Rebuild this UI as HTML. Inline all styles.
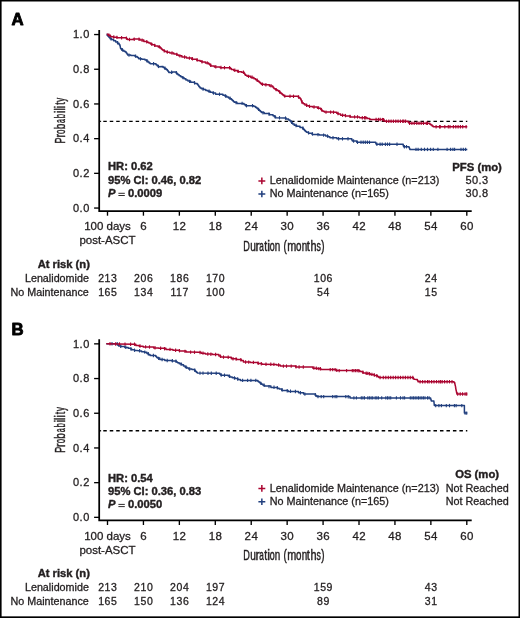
<!DOCTYPE html>
<html><head><meta charset="utf-8"><style>
html,body{margin:0;padding:0;background:#fff;}
body{width:520px;height:618px;overflow:hidden;}
svg{display:block;font-family:"Liberation Sans", sans-serif;will-change:transform;}
svg text{stroke:#231f20;stroke-width:0.3px;}
svg .b text, svg text.b{stroke-width:0.4px;}
</style></head><body>
<svg width="520" height="618" viewBox="0 0 520 618" fill="#231f20">
<rect x="0" y="0" width="520" height="618" fill="#fff"/>
<g fill="#000"><rect x="0" y="0" width="1.6" height="618"/><rect x="0" y="0" width="520" height="1.5"/><rect x="518.5" y="0" width="1.5" height="618"/><rect x="0" y="616.35" width="520" height="1.65"/></g>
<text x="11.6" y="25.4" font-size="16.8" font-weight="bold" style="stroke:#000;stroke-width:0.85px;stroke-linejoin:round" fill="#000">A</text>
<g stroke="#000" stroke-width="1.75" fill="none">
<path d="M99.2,30.0 V211.7 M98.35,211.0 H471.7"/>
</g><g stroke="#000" stroke-width="1.35" fill="none">
<path d="M94.1,208.05 H99"/>
<path d="M94.1,173.35 H99"/>
<path d="M94.1,138.65 H99"/>
<path d="M94.1,103.95 H99"/>
<path d="M94.1,69.25 H99"/>
<path d="M94.1,34.55 H99"/>
<path d="M107.50,211.0 V215.7"/>
<path d="M143.43,211.0 V215.7"/>
<path d="M179.36,211.0 V215.7"/>
<path d="M215.29,211.0 V215.7"/>
<path d="M251.22,211.0 V215.7"/>
<path d="M287.15,211.0 V215.7"/>
<path d="M323.08,211.0 V215.7"/>
<path d="M359.01,211.0 V215.7"/>
<path d="M394.94,211.0 V215.7"/>
<path d="M430.87,211.0 V215.7"/>
<path d="M466.80,211.0 V215.7"/>
</g>
<g font-size="11" text-anchor="end" letter-spacing="0.5">
<text x="89.8" y="211.7">0.0</text>
<text x="89.8" y="177.0">0.2</text>
<text x="89.8" y="142.2">0.4</text>
<text x="89.8" y="107.5">0.6</text>
<text x="89.8" y="72.8">0.8</text>
<text x="89.8" y="38.2">1.0</text>
</g>
<g font-size="11.5" text-anchor="middle">
<text x="107.5" y="230.2">100 days</text>
<text x="107.5" y="244.3">post-ASCT</text>
<text x="143.6" y="230.2" letter-spacing="0.4">6</text>
<text x="179.6" y="230.2" letter-spacing="0.4">12</text>
<text x="215.5" y="230.2" letter-spacing="0.4">18</text>
<text x="251.4" y="230.2" letter-spacing="0.4">24</text>
<text x="287.3" y="230.2" letter-spacing="0.4">30</text>
<text x="323.3" y="230.2" letter-spacing="0.4">36</text>
<text x="359.2" y="230.2" letter-spacing="0.4">42</text>
<text x="395.1" y="230.2" letter-spacing="0.4">48</text>
<text x="431.1" y="230.2" letter-spacing="0.4">54</text>
<text x="467.0" y="230.2" letter-spacing="0.4">60</text>
</g>
<text transform="translate(0,250.8) translate(243.15,0) scale(0.651,1)" font-size="14" style="stroke-width:0.45px">D</text><text transform="translate(0,250.8) translate(250.14,0) scale(0.723,1)" font-size="14" style="stroke-width:0.45px">u</text><text transform="translate(0,250.8) translate(255.38,0) scale(0.886,1)" font-size="14" style="stroke-width:0.45px">r</text><text transform="translate(0,250.8) translate(259.35,0) scale(0.584,1)" font-size="14" style="stroke-width:0.45px">a</text><text transform="translate(0,250.8) translate(264.14,0) scale(0.755,1)" font-size="14" style="stroke-width:0.45px">t</text><text transform="translate(0,250.8) translate(267.36,0) scale(0.894,1)" font-size="14" style="stroke-width:0.45px">i</text><text transform="translate(0,250.8) translate(269.73,0) scale(0.635,1)" font-size="14" style="stroke-width:0.45px">o</text><text transform="translate(0,250.8) translate(274.84,0) scale(0.706,1)" font-size="14" style="stroke-width:0.45px">n</text>
<text transform="translate(0,250.8) translate(283.49,0) scale(0.700,1)" font-size="14" style="stroke-width:0.45px">(</text><text transform="translate(0,250.8) translate(287.18,0) scale(0.775,1)" font-size="14" style="stroke-width:0.45px">m</text><text transform="translate(0,250.8) translate(295.99,0) scale(0.696,1)" font-size="14" style="stroke-width:0.45px">o</text><text transform="translate(0,250.8) translate(301.64,0) scale(0.706,1)" font-size="14" style="stroke-width:0.45px">n</text><text transform="translate(0,250.8) translate(306.83,0) scale(0.811,1)" font-size="14" style="stroke-width:0.45px">t</text><text transform="translate(0,250.8) translate(310.44,0) scale(0.779,1)" font-size="14" style="stroke-width:0.45px">h</text><text transform="translate(0,250.8) translate(316.46,0) scale(0.622,1)" font-size="14" style="stroke-width:0.45px">s</text><text transform="translate(0,250.8) translate(321.24,0) scale(0.700,1)" font-size="14" style="stroke-width:0.45px">)</text>
<text transform="translate(64.7,143.0) rotate(-90) translate(-0.54,0) scale(0.644,1)" font-size="14" style="stroke-width:0.45px">P</text><text transform="translate(64.7,143.0) rotate(-90) translate(5.41,0) scale(0.743,1)" font-size="14" style="stroke-width:0.45px">r</text><text transform="translate(64.7,143.0) rotate(-90) translate(8.97,0) scale(0.560,1)" font-size="14" style="stroke-width:0.45px">o</text><text transform="translate(64.7,143.0) rotate(-90) translate(13.66,0) scale(0.715,1)" font-size="14" style="stroke-width:0.45px">b</text><text transform="translate(64.7,143.0) rotate(-90) translate(20.05,0) scale(0.501,1)" font-size="14" style="stroke-width:0.45px">a</text><text transform="translate(64.7,143.0) rotate(-90) translate(24.68,0) scale(0.572,1)" font-size="14" style="stroke-width:0.45px">b</text><text transform="translate(64.7,143.0) rotate(-90) translate(29.95,0) scale(0.772,1)" font-size="14" style="stroke-width:0.45px">i</text><text transform="translate(64.7,143.0) rotate(-90) translate(32.40,0) scale(0.772,1)" font-size="14" style="stroke-width:0.45px">l</text><text transform="translate(64.7,143.0) rotate(-90) translate(34.70,0) scale(0.772,1)" font-size="14" style="stroke-width:0.45px">i</text><text transform="translate(64.7,143.0) rotate(-90) translate(38.16,0) scale(0.643,1)" font-size="14" style="stroke-width:0.45px">t</text><text transform="translate(64.7,143.0) rotate(-90) translate(41.18,0) scale(0.562,1)" font-size="14" style="stroke-width:0.45px">y</text>
<path d="M100.3,121.4 H467.3" stroke="#000" stroke-width="1.4" stroke-dasharray="3.5,2.975" stroke-dashoffset="3.5"/>
<path d="M100.1,121.4 H101.1" stroke="#000" stroke-width="1.4"/>
<polyline points="106.7,34.3 107.2,34.3 107.2,35.4 108.2,35.4 108.2,36.5 109.1,36.5 109.1,37.6 110.1,37.6 110.1,38.7 110.6,38.7 111.5,38.7 111.5,39.6 112.5,39.6 113.6,39.6 113.6,40.8 115.7,40.8 115.7,42.0 116.8,42.0 117.5,42.0 117.5,43.2 119.0,43.2 119.0,44.4 119.7,44.4 119.8,44.4 119.8,45.5 120.1,45.5 120.1,46.6 120.3,46.6 120.3,47.7 120.6,47.7 120.6,48.8 120.7,48.8 121.8,48.8 121.8,50.2 123.0,50.2 123.8,50.2 123.8,51.2 125.2,51.2 125.2,52.1 126.0,52.1 126.3,52.1 126.3,53.1 127.0,53.1 127.0,54.0 127.6,54.0 127.6,55.0 127.9,55.0 130.8,55.0 130.8,55.5 133.7,55.5 135.1,55.5 135.1,56.4 136.5,56.4 137.2,56.4 137.2,57.6 138.7,57.6 138.7,58.8 139.4,58.8 141.8,58.8 141.8,59.3 144.2,59.3 145.0,59.3 145.0,60.1 146.5,60.1 146.5,61.0 147.3,61.0 147.9,61.0 147.9,61.9 149.1,61.9 149.1,62.9 150.2,62.9 150.2,63.8 150.8,63.8 155.4,63.8 156.0,63.8 156.0,64.8 157.1,64.8 157.1,65.7 158.2,65.7 158.2,66.7 158.8,66.7 162.3,66.4 163.1,66.4 163.1,67.5 164.6,67.5 164.6,68.5 166.1,68.5 166.1,69.6 166.9,69.6 167.3,69.6 167.3,70.6 168.1,70.6 168.1,71.5 168.8,71.5 168.8,72.5 169.2,72.5 172.4,72.5 172.4,71.9 175.6,71.9 176.1,71.9 176.1,72.9 177.0,72.9 177.0,73.8 177.9,73.8 177.9,74.8 178.4,74.8 179.2,74.8 179.2,75.8 180.8,75.8 180.8,76.7 182.3,76.7 182.3,77.7 183.1,77.7 184.1,77.7 184.1,78.8 185.9,78.8 185.9,80.0 187.9,80.0 187.9,81.1 188.8,81.1 190.6,81.1 190.6,82.3 192.3,82.3 194.6,82.3 194.6,83.4 196.9,83.4 197.2,83.4 197.2,84.3 198.0,84.3 198.0,85.2 198.7,85.2 198.7,86.2 199.3,86.2 199.3,87.1 200.1,87.1 200.1,88.0 200.4,88.0 201.4,88.0 201.4,88.8 203.6,88.8 203.6,89.6 204.6,89.6 205.8,89.6 205.8,90.4 208.0,90.4 208.0,91.3 209.2,91.3 210.3,91.3 210.3,92.2 212.7,92.2 212.7,93.1 213.8,93.1 215.6,93.1 215.6,94.2 217.3,94.2 221.9,94.2 222.9,94.2 222.9,95.2 224.8,95.2 224.8,96.1 226.7,96.1 226.7,97.1 227.7,97.1 228.5,97.1 228.5,97.9 230.2,97.9 230.2,98.8 231.1,98.8 231.5,98.8 231.5,99.7 232.4,99.7 232.4,100.5 233.3,100.5 233.3,101.4 234.2,101.4 234.2,102.3 234.6,102.3 236.9,102.3 236.9,103.4 239.2,103.4 243.3,103.4 244.0,103.4 244.0,104.6 245.4,104.6 245.4,105.7 246.1,105.7 253.1,105.7 253.9,105.7 253.9,106.6 255.7,106.6 255.7,107.5 256.5,107.5 257.0,107.5 257.0,108.5 258.1,108.5 258.1,109.5 259.2,109.5 259.2,110.5 260.3,110.5 260.3,111.5 261.4,111.5 261.4,112.5 261.9,112.5 264.2,112.5 264.2,113.6 266.5,113.6 269.4,113.6 269.4,114.8 272.3,114.8 273.0,114.8 273.0,115.8 274.3,115.8 274.3,116.7 275.6,116.7 275.6,117.7 276.3,117.7 285.0,117.9 286.1,117.9 286.1,119.0 288.5,119.0 288.5,120.0 289.6,120.0 290.0,120.0 290.0,121.0 290.9,121.0 290.9,122.0 291.8,122.0 291.8,123.0 292.7,123.0 292.7,124.0 293.1,124.0 294.2,124.0 294.2,125.2 296.6,125.2 296.6,126.3 297.7,126.3 300.0,126.3 300.0,127.5 302.3,127.5 302.7,127.5 302.7,128.5 303.6,128.5 303.6,129.5 304.5,129.5 304.5,130.5 305.4,130.5 305.4,131.5 305.8,131.5 306.6,131.5 306.6,132.3 308.4,132.3 308.4,133.2 309.2,133.2 312.1,133.2 312.1,134.4 315.0,134.4 319.4,134.4 319.4,135.1 323.8,135.1 325.6,135.1 325.6,136.0 327.3,136.0 328.2,136.0 328.2,136.8 329.9,136.8 329.9,137.7 330.8,137.7 335.4,137.7 336.9,137.7 336.9,138.8 338.3,138.8 351.5,138.8 351.8,138.8 351.8,139.9 352.4,139.9 352.4,140.9 352.7,140.9 356.1,141.1 356.7,141.1 356.7,142.3 357.3,142.3 375.4,142.3 375.7,142.3 375.7,143.2 376.2,143.2 376.2,144.2 376.5,144.2 403.1,144.2 403.2,144.2 403.2,145.4 403.5,145.4 403.5,146.7 403.6,146.7 408.8,146.7 409.0,146.7 409.0,147.6 409.4,147.6 409.4,148.5 409.8,148.5 409.8,149.4 410.0,149.4 467.3,149.4" fill="none" stroke="#213f7e" stroke-width="1.5" stroke-linejoin="round"/>
<g stroke="#213f7e" stroke-width="1.1"><line x1="111.0" y1="37.2" x2="111.0" y2="40.6"/><line x1="117.6" y1="41.0" x2="117.6" y2="44.4"/><line x1="122.5" y1="48.2" x2="122.5" y2="51.6"/><line x1="129.0" y1="53.4" x2="129.0" y2="56.8"/><line x1="135.6" y1="54.4" x2="135.6" y2="57.8"/><line x1="140.5" y1="57.2" x2="140.5" y2="60.6"/><line x1="147.0" y1="59.1" x2="147.0" y2="62.5"/><line x1="153.6" y1="62.1" x2="153.6" y2="65.5"/><line x1="158.5" y1="64.7" x2="158.5" y2="68.1"/><line x1="165.0" y1="66.6" x2="165.0" y2="70.0"/><line x1="171.6" y1="70.6" x2="171.6" y2="74.0"/><line x1="176.5" y1="71.1" x2="176.5" y2="74.5"/><line x1="183.0" y1="75.9" x2="183.0" y2="79.3"/><line x1="189.6" y1="79.7" x2="189.6" y2="83.1"/><line x1="194.5" y1="81.1" x2="194.5" y2="84.5"/><line x1="203.0" y1="87.3" x2="203.0" y2="90.7"/><line x1="209.1" y1="89.6" x2="209.1" y2="93.0"/><line x1="213.5" y1="91.3" x2="213.5" y2="94.7"/><line x1="219.5" y1="92.5" x2="219.5" y2="95.9"/><line x1="225.6" y1="94.3" x2="225.6" y2="97.8"/><line x1="230.0" y1="96.5" x2="230.0" y2="100.0"/><line x1="236.0" y1="100.9" x2="236.0" y2="104.3"/><line x1="242.1" y1="101.7" x2="242.1" y2="105.1"/><line x1="246.5" y1="104.0" x2="246.5" y2="107.4"/><line x1="252.5" y1="104.0" x2="252.5" y2="107.4"/><line x1="258.6" y1="107.7" x2="258.6" y2="111.1"/><line x1="263.0" y1="111.1" x2="263.0" y2="114.5"/><line x1="269.0" y1="112.4" x2="269.0" y2="115.8"/><line x1="275.1" y1="115.1" x2="275.1" y2="118.5"/><line x1="279.5" y1="116.1" x2="279.5" y2="119.5"/><line x1="285.5" y1="116.4" x2="285.5" y2="119.8"/><line x1="291.6" y1="120.6" x2="291.6" y2="124.0"/><line x1="296.0" y1="123.8" x2="296.0" y2="127.2"/><line x1="303.0" y1="126.6" x2="303.0" y2="130.0"/><line x1="308.6" y1="131.2" x2="308.6" y2="134.6"/><line x1="312.5" y1="132.2" x2="312.5" y2="135.6"/><line x1="318.0" y1="132.9" x2="318.0" y2="136.3"/><line x1="323.6" y1="133.4" x2="323.6" y2="136.8"/><line x1="327.5" y1="134.4" x2="327.5" y2="137.8"/><line x1="333.0" y1="136.0" x2="333.0" y2="139.4"/><line x1="338.6" y1="137.1" x2="338.6" y2="140.5"/><line x1="342.5" y1="137.1" x2="342.5" y2="140.5"/><line x1="348.0" y1="137.1" x2="348.0" y2="140.5"/><line x1="353.6" y1="139.3" x2="353.6" y2="142.7"/><line x1="357.5" y1="140.6" x2="357.5" y2="144.0"/><line x1="361.0" y1="140.6" x2="361.0" y2="144.0"/><line x1="363.2" y1="140.6" x2="363.2" y2="144.0"/><line x1="365.3" y1="140.6" x2="365.3" y2="144.0"/><line x1="367.4" y1="140.6" x2="367.4" y2="144.0"/><line x1="369.5" y1="140.6" x2="369.5" y2="144.0"/><line x1="376.9" y1="142.5" x2="376.9" y2="145.9"/><line x1="380.1" y1="142.5" x2="380.1" y2="145.9"/><line x1="382.2" y1="142.5" x2="382.2" y2="145.9"/><line x1="385.4" y1="142.5" x2="385.4" y2="145.9"/><line x1="387.5" y1="142.5" x2="387.5" y2="145.9"/><line x1="389.6" y1="142.5" x2="389.6" y2="145.9"/><line x1="397.0" y1="142.5" x2="397.0" y2="145.9"/><line x1="404.4" y1="145.0" x2="404.4" y2="148.4"/><line x1="406.5" y1="145.0" x2="406.5" y2="148.4"/><line x1="416.0" y1="147.7" x2="416.0" y2="151.1"/><line x1="418.1" y1="147.7" x2="418.1" y2="151.1"/><line x1="421.3" y1="147.7" x2="421.3" y2="151.1"/><line x1="424.5" y1="147.7" x2="424.5" y2="151.1"/><line x1="427.5" y1="147.7" x2="427.5" y2="151.1"/><line x1="430.6" y1="147.7" x2="430.6" y2="151.1"/><line x1="433.3" y1="147.7" x2="433.3" y2="151.1"/><line x1="437.9" y1="147.7" x2="437.9" y2="151.1"/><line x1="447.1" y1="147.7" x2="447.1" y2="151.1"/><line x1="450.6" y1="147.7" x2="450.6" y2="151.1"/><line x1="452.9" y1="147.7" x2="452.9" y2="151.1"/><line x1="454.6" y1="147.7" x2="454.6" y2="151.1"/><line x1="461.0" y1="147.7" x2="461.0" y2="151.1"/><line x1="463.3" y1="147.7" x2="463.3" y2="151.1"/><line x1="465.6" y1="147.7" x2="465.6" y2="151.1"/></g>
<polyline points="106.7,34.3 108.2,34.3 108.2,35.3 109.6,35.3 110.5,35.3 110.5,36.7 111.5,36.7 113.5,36.7 113.5,37.2 115.4,37.2 117.3,37.2 117.3,37.7 119.2,37.7 126.0,37.7 126.5,37.7 126.5,38.7 127.4,38.7 127.4,39.6 127.9,39.6 133.2,39.6 133.2,39.1 138.5,39.1 139.9,39.1 139.9,40.1 141.3,40.1 143.8,40.1 143.8,41.5 146.2,41.5 147.0,41.5 147.0,42.3 148.8,42.3 148.8,43.1 149.6,43.1 150.5,43.1 150.5,44.0 152.2,44.0 152.2,44.8 153.1,44.8 154.8,44.8 154.8,46.0 156.5,46.0 158.2,46.0 158.2,47.1 160.0,47.1 160.4,47.1 160.4,48.0 161.3,48.0 161.3,48.9 162.2,48.9 162.2,49.7 163.1,49.7 163.1,50.6 163.5,50.6 164.7,50.6 164.7,51.5 166.9,51.5 166.9,52.3 168.1,52.3 169.8,52.3 169.8,52.9 171.5,52.9 173.8,52.9 173.8,54.0 176.1,54.0 177.0,54.0 177.0,54.9 178.7,54.9 178.7,55.8 179.6,55.8 181.9,55.8 181.9,56.9 184.2,56.9 186.5,56.9 186.5,58.0 188.8,58.0 191.7,58.0 191.7,59.2 194.6,59.2 196.9,59.2 196.9,60.4 199.2,60.4 200.1,60.4 200.1,61.2 201.8,61.2 201.8,62.1 202.7,62.1 205.4,62.1 205.4,63.1 208.1,63.1 208.7,63.1 208.7,64.1 209.8,64.1 209.8,65.0 210.9,65.0 210.9,66.0 211.5,66.0 214.4,66.0 214.4,67.1 217.3,67.1 220.2,67.1 220.2,67.7 223.1,67.7 230.0,67.7 230.4,67.7 230.4,68.6 231.3,68.6 231.3,69.4 231.7,69.4 233.8,69.4 233.8,70.6 235.8,70.6 237.5,70.6 237.5,71.7 239.2,71.7 241.5,71.7 241.5,72.3 243.8,72.3 244.1,72.3 244.1,73.3 244.7,73.3 244.7,74.2 245.3,74.2 245.3,75.2 245.6,75.2 247.0,75.2 247.0,76.3 248.4,76.3 250.8,76.3 250.8,77.5 253.1,77.5 253.9,77.5 253.9,78.7 255.7,78.7 255.7,79.8 256.5,79.8 257.0,79.8 257.0,80.5 258.0,80.5 258.0,81.3 258.5,81.3 259.1,81.3 259.1,82.3 260.2,82.3 260.2,83.2 261.3,83.2 261.3,84.2 261.9,84.2 264.2,84.2 264.2,84.8 266.5,84.8 269.4,84.8 269.4,86.0 272.3,86.0 272.7,86.0 272.7,86.9 273.5,86.9 273.5,87.9 274.2,87.9 274.2,88.8 274.6,88.8 275.5,88.8 275.5,89.7 277.2,89.7 277.2,90.6 278.1,90.6 278.7,90.6 278.7,91.6 279.8,91.6 279.8,92.5 280.9,92.5 280.9,93.5 281.5,93.5 282.1,93.5 282.1,94.4 283.2,94.4 283.2,95.4 284.4,95.4 284.4,96.3 285.0,96.3 289.6,96.3 297.7,96.3 298.4,96.3 298.4,97.4 299.9,97.4 299.9,98.6 300.6,98.6 300.8,98.6 300.8,99.6 301.2,99.6 301.2,100.7 301.7,100.7 301.7,101.7 302.1,101.7 302.1,102.7 302.3,102.7 303.2,102.7 303.2,103.8 304.9,103.8 304.9,105.0 305.8,105.0 306.9,105.0 306.9,105.8 309.2,105.8 309.2,106.6 310.4,106.6 312.5,106.6 312.5,107.1 314.6,107.1 317.5,107.1 317.5,108.3 320.4,108.3 320.8,108.3 320.8,109.4 321.7,109.4 321.7,110.6 322.1,110.6 322.8,110.6 322.8,111.3 324.3,111.3 324.3,112.1 325.0,112.1 330.8,112.1 336.0,112.3 336.7,112.3 336.7,113.2 338.1,113.2 338.1,114.0 338.8,114.0 340.6,114.0 340.6,115.2 342.3,115.2 345.2,115.2 345.2,116.0 348.1,116.0 350.4,116.0 350.4,116.9 352.7,116.9 358.4,116.9 359.5,116.9 359.5,117.7 360.7,117.7 366.5,117.7 367.1,117.7 367.1,118.5 367.7,118.5 369.8,118.5 369.8,119.4 371.9,119.4 383.5,119.6 383.9,119.6 383.9,120.4 384.8,120.4 384.8,121.3 385.2,121.3 407.7,121.3 408.1,121.3 408.1,122.3 409.0,122.3 409.0,123.3 409.4,123.3 429.2,123.3 429.8,123.3 429.8,124.2 430.9,124.2 430.9,125.0 432.1,125.0 432.1,125.9 433.2,125.9 433.2,126.8 433.8,126.8 467.3,126.8" fill="none" stroke="#aa0530" stroke-width="1.5" stroke-linejoin="round"/>
<g stroke="#aa0530" stroke-width="1.1"><line x1="109.0" y1="33.4" x2="109.0" y2="36.8"/><line x1="113.8" y1="35.3" x2="113.8" y2="38.7"/><line x1="116.9" y1="35.7" x2="116.9" y2="39.1"/><line x1="121.6" y1="36.0" x2="121.6" y2="39.4"/><line x1="126.4" y1="36.4" x2="126.4" y2="39.8"/><line x1="129.5" y1="37.8" x2="129.5" y2="41.2"/><line x1="134.2" y1="37.6" x2="134.2" y2="41.0"/><line x1="139.0" y1="37.6" x2="139.0" y2="41.0"/><line x1="142.1" y1="38.6" x2="142.1" y2="42.0"/><line x1="146.8" y1="40.1" x2="146.8" y2="43.5"/><line x1="151.6" y1="42.4" x2="151.6" y2="45.8"/><line x1="154.7" y1="43.7" x2="154.7" y2="47.1"/><line x1="159.4" y1="45.2" x2="159.4" y2="48.6"/><line x1="164.2" y1="49.2" x2="164.2" y2="52.6"/><line x1="167.3" y1="50.3" x2="167.3" y2="53.7"/><line x1="172.0" y1="51.3" x2="172.0" y2="54.7"/><line x1="176.8" y1="52.7" x2="176.8" y2="56.1"/><line x1="179.9" y1="54.2" x2="179.9" y2="57.6"/><line x1="184.6" y1="55.3" x2="184.6" y2="58.7"/><line x1="189.4" y1="56.4" x2="189.4" y2="59.8"/><line x1="192.5" y1="57.1" x2="192.5" y2="60.5"/><line x1="197.2" y1="58.2" x2="197.2" y2="61.6"/><line x1="202.0" y1="60.1" x2="202.0" y2="63.5"/><line x1="207.2" y1="61.2" x2="207.2" y2="64.6"/><line x1="210.7" y1="63.6" x2="210.7" y2="67.0"/><line x1="215.8" y1="65.1" x2="215.8" y2="68.5"/><line x1="221.0" y1="65.8" x2="221.0" y2="69.2"/><line x1="224.5" y1="66.0" x2="224.5" y2="69.4"/><line x1="229.6" y1="66.0" x2="229.6" y2="69.4"/><line x1="234.8" y1="68.6" x2="234.8" y2="72.0"/><line x1="238.3" y1="69.7" x2="238.3" y2="73.1"/><line x1="243.4" y1="70.5" x2="243.4" y2="73.9"/><line x1="248.6" y1="74.7" x2="248.6" y2="78.1"/><line x1="252.1" y1="75.5" x2="252.1" y2="78.9"/><line x1="257.2" y1="78.6" x2="257.2" y2="82.0"/><line x1="262.4" y1="82.6" x2="262.4" y2="86.0"/><line x1="265.9" y1="83.0" x2="265.9" y2="86.4"/><line x1="271.0" y1="84.0" x2="271.0" y2="87.4"/><line x1="276.2" y1="87.9" x2="276.2" y2="91.3"/><line x1="279.7" y1="90.3" x2="279.7" y2="93.7"/><line x1="284.8" y1="94.4" x2="284.8" y2="97.8"/><line x1="290.0" y1="94.6" x2="290.0" y2="98.0"/><line x1="293.5" y1="94.6" x2="293.5" y2="98.0"/><line x1="298.6" y1="95.3" x2="298.6" y2="98.7"/><line x1="302.0" y1="100.3" x2="302.0" y2="103.7"/><line x1="306.6" y1="103.6" x2="306.6" y2="107.0"/><line x1="309.5" y1="104.6" x2="309.5" y2="108.0"/><line x1="314.0" y1="105.3" x2="314.0" y2="108.7"/><line x1="318.6" y1="106.2" x2="318.6" y2="109.6"/><line x1="321.5" y1="108.1" x2="321.5" y2="111.5"/><line x1="326.0" y1="110.4" x2="326.0" y2="113.8"/><line x1="330.6" y1="110.4" x2="330.6" y2="113.8"/><line x1="333.5" y1="110.5" x2="333.5" y2="113.9"/><line x1="338.0" y1="111.8" x2="338.0" y2="115.2"/><line x1="342.6" y1="113.5" x2="342.6" y2="116.9"/><line x1="345.5" y1="113.9" x2="345.5" y2="117.3"/><line x1="350.0" y1="114.7" x2="350.0" y2="118.1"/><line x1="354.6" y1="115.2" x2="354.6" y2="118.6"/><line x1="357.5" y1="115.2" x2="357.5" y2="118.6"/><line x1="362.3" y1="116.0" x2="362.3" y2="119.4"/><line x1="364.6" y1="116.0" x2="364.6" y2="119.4"/><line x1="365.8" y1="116.0" x2="365.8" y2="119.4"/><line x1="376.1" y1="117.8" x2="376.1" y2="121.2"/><line x1="378.5" y1="117.8" x2="378.5" y2="121.2"/><line x1="380.2" y1="117.8" x2="380.2" y2="121.2"/><line x1="382.5" y1="117.9" x2="382.5" y2="121.3"/><line x1="383.6" y1="118.0" x2="383.6" y2="121.4"/><line x1="386.5" y1="119.6" x2="386.5" y2="123.0"/><line x1="388.8" y1="119.6" x2="388.8" y2="123.0"/><line x1="391.1" y1="119.6" x2="391.1" y2="123.0"/><line x1="393.4" y1="119.6" x2="393.4" y2="123.0"/><line x1="395.8" y1="119.6" x2="395.8" y2="123.0"/><line x1="398.1" y1="119.6" x2="398.1" y2="123.0"/><line x1="400.4" y1="119.6" x2="400.4" y2="123.0"/><line x1="402.7" y1="119.6" x2="402.7" y2="123.0"/><line x1="403.8" y1="119.6" x2="403.8" y2="123.0"/><line x1="405.6" y1="119.6" x2="405.6" y2="123.0"/><line x1="409.6" y1="121.6" x2="409.6" y2="125.0"/><line x1="411.9" y1="121.6" x2="411.9" y2="125.0"/><line x1="414.2" y1="121.6" x2="414.2" y2="125.0"/><line x1="416.8" y1="121.6" x2="416.8" y2="125.0"/><line x1="419.0" y1="121.6" x2="419.0" y2="125.0"/><line x1="421.2" y1="121.6" x2="421.2" y2="125.0"/><line x1="423.5" y1="121.6" x2="423.5" y2="125.0"/><line x1="426.3" y1="121.6" x2="426.3" y2="125.0"/><line x1="427.5" y1="121.6" x2="427.5" y2="125.0"/><line x1="436.1" y1="125.1" x2="436.1" y2="128.5"/><line x1="439.6" y1="125.1" x2="439.6" y2="128.5"/><line x1="440.2" y1="125.1" x2="440.2" y2="128.5"/><line x1="444.8" y1="125.1" x2="444.8" y2="128.5"/><line x1="448.3" y1="125.1" x2="448.3" y2="128.5"/><line x1="450.0" y1="125.1" x2="450.0" y2="128.5"/><line x1="453.4" y1="125.1" x2="453.4" y2="128.5"/><line x1="455.8" y1="125.1" x2="455.8" y2="128.5"/><line x1="458.1" y1="125.1" x2="458.1" y2="128.5"/><line x1="460.4" y1="125.1" x2="460.4" y2="128.5"/><line x1="462.7" y1="125.1" x2="462.7" y2="128.5"/><line x1="466.1" y1="125.1" x2="466.1" y2="128.5"/></g>
<g font-size="11.2" font-weight="bold" class="b">
<text x="108" y="170.4">HR: 0.62</text>
<text x="108" y="183.6">95% CI: 0.46, 0.82</text>
<text x="108" y="196.8" font-style="italic">P</text>
<path d="M118.4,193.3 H124.8 M118.4,195.5 H124.8" stroke="#231f20" stroke-width="0.95"/>
<text x="128.0" y="196.8">0.0009</text>
</g>
<g font-size="10.8">
<text x="269.7" y="184.0">Lenalidomide Maintenance (n=213)</text>
<text x="269.7" y="197.3">No Maintenance (n=165)</text>
</g>
<g stroke-width="1.5"><path d="M258.4,180.9 H265.3 M261.85,177.5 V184.2" stroke="#aa0530"/>
<path d="M258.4,194.1 H265.3 M261.85,190.8 V197.3" stroke="#213f7e"/></g>
<text x="477.1" y="170.6" font-size="11.3" font-weight="bold" class="b" text-anchor="middle">PFS (mo)</text>
<g font-size="11" text-anchor="middle" letter-spacing="0.35"><text x="477.0" y="183.6">50.3</text><text x="477.0" y="197.1">30.8</text></g>
<text x="89.9" y="268.0" font-size="11.2" font-weight="bold" class="b" text-anchor="end">At risk (n)</text>
<g font-size="10.75" text-anchor="end"><text x="88.9" y="282.0">Lenalidomide</text><text x="88.8" y="295.5">No Maintenance</text></g>
<g font-size="10.5" text-anchor="middle" letter-spacing="0.6">
<text x="107.8" y="282.0">213</text>
<text x="143.7" y="282.0">206</text>
<text x="179.7" y="282.0">186</text>
<text x="215.6" y="282.0">170</text>
<text x="323.4" y="282.0">106</text>
<text x="431.2" y="282.0">24</text>
<text x="107.8" y="295.5">165</text>
<text x="143.7" y="295.5">134</text>
<text x="179.7" y="295.5">117</text>
<text x="215.6" y="295.5">100</text>
<text x="323.4" y="295.5">54</text>
<text x="431.2" y="295.5">15</text>
</g>
<text x="11.6" y="334.7" font-size="16.8" font-weight="bold" style="stroke:#000;stroke-width:0.85px;stroke-linejoin:round" fill="#000">B</text>
<g stroke="#000" stroke-width="1.75" fill="none">
<path d="M99.2,339.3 V521.0 M98.35,520.3 H471.7"/>
</g><g stroke="#000" stroke-width="1.35" fill="none">
<path d="M94.1,517.35 H99"/>
<path d="M94.1,482.65 H99"/>
<path d="M94.1,447.95 H99"/>
<path d="M94.1,413.25 H99"/>
<path d="M94.1,378.55 H99"/>
<path d="M94.1,343.85 H99"/>
<path d="M107.50,520.3 V525.0"/>
<path d="M143.43,520.3 V525.0"/>
<path d="M179.36,520.3 V525.0"/>
<path d="M215.29,520.3 V525.0"/>
<path d="M251.22,520.3 V525.0"/>
<path d="M287.15,520.3 V525.0"/>
<path d="M323.08,520.3 V525.0"/>
<path d="M359.01,520.3 V525.0"/>
<path d="M394.94,520.3 V525.0"/>
<path d="M430.87,520.3 V525.0"/>
<path d="M466.80,520.3 V525.0"/>
</g>
<g font-size="11" text-anchor="end" letter-spacing="0.5">
<text x="89.8" y="521.0">0.0</text>
<text x="89.8" y="486.3">0.2</text>
<text x="89.8" y="451.6">0.4</text>
<text x="89.8" y="416.9">0.6</text>
<text x="89.8" y="382.2">0.8</text>
<text x="89.8" y="347.5">1.0</text>
</g>
<g font-size="11.5" text-anchor="middle">
<text x="107.5" y="539.5">100 days</text>
<text x="107.5" y="553.6">post-ASCT</text>
<text x="143.6" y="539.5" letter-spacing="0.4">6</text>
<text x="179.6" y="539.5" letter-spacing="0.4">12</text>
<text x="215.5" y="539.5" letter-spacing="0.4">18</text>
<text x="251.4" y="539.5" letter-spacing="0.4">24</text>
<text x="287.3" y="539.5" letter-spacing="0.4">30</text>
<text x="323.3" y="539.5" letter-spacing="0.4">36</text>
<text x="359.2" y="539.5" letter-spacing="0.4">42</text>
<text x="395.1" y="539.5" letter-spacing="0.4">48</text>
<text x="431.1" y="539.5" letter-spacing="0.4">54</text>
<text x="467.0" y="539.5" letter-spacing="0.4">60</text>
</g>
<text transform="translate(0,560.1) translate(243.15,0) scale(0.651,1)" font-size="14" style="stroke-width:0.45px">D</text><text transform="translate(0,560.1) translate(250.14,0) scale(0.723,1)" font-size="14" style="stroke-width:0.45px">u</text><text transform="translate(0,560.1) translate(255.38,0) scale(0.886,1)" font-size="14" style="stroke-width:0.45px">r</text><text transform="translate(0,560.1) translate(259.35,0) scale(0.584,1)" font-size="14" style="stroke-width:0.45px">a</text><text transform="translate(0,560.1) translate(264.14,0) scale(0.755,1)" font-size="14" style="stroke-width:0.45px">t</text><text transform="translate(0,560.1) translate(267.36,0) scale(0.894,1)" font-size="14" style="stroke-width:0.45px">i</text><text transform="translate(0,560.1) translate(269.73,0) scale(0.635,1)" font-size="14" style="stroke-width:0.45px">o</text><text transform="translate(0,560.1) translate(274.84,0) scale(0.706,1)" font-size="14" style="stroke-width:0.45px">n</text>
<text transform="translate(0,560.1) translate(283.49,0) scale(0.700,1)" font-size="14" style="stroke-width:0.45px">(</text><text transform="translate(0,560.1) translate(287.18,0) scale(0.775,1)" font-size="14" style="stroke-width:0.45px">m</text><text transform="translate(0,560.1) translate(295.99,0) scale(0.696,1)" font-size="14" style="stroke-width:0.45px">o</text><text transform="translate(0,560.1) translate(301.64,0) scale(0.706,1)" font-size="14" style="stroke-width:0.45px">n</text><text transform="translate(0,560.1) translate(306.83,0) scale(0.811,1)" font-size="14" style="stroke-width:0.45px">t</text><text transform="translate(0,560.1) translate(310.44,0) scale(0.779,1)" font-size="14" style="stroke-width:0.45px">h</text><text transform="translate(0,560.1) translate(316.46,0) scale(0.622,1)" font-size="14" style="stroke-width:0.45px">s</text><text transform="translate(0,560.1) translate(321.24,0) scale(0.700,1)" font-size="14" style="stroke-width:0.45px">)</text>
<text transform="translate(64.7,452.3) rotate(-90) translate(-0.54,0) scale(0.644,1)" font-size="14" style="stroke-width:0.45px">P</text><text transform="translate(64.7,452.3) rotate(-90) translate(5.41,0) scale(0.743,1)" font-size="14" style="stroke-width:0.45px">r</text><text transform="translate(64.7,452.3) rotate(-90) translate(8.97,0) scale(0.560,1)" font-size="14" style="stroke-width:0.45px">o</text><text transform="translate(64.7,452.3) rotate(-90) translate(13.66,0) scale(0.715,1)" font-size="14" style="stroke-width:0.45px">b</text><text transform="translate(64.7,452.3) rotate(-90) translate(20.05,0) scale(0.501,1)" font-size="14" style="stroke-width:0.45px">a</text><text transform="translate(64.7,452.3) rotate(-90) translate(24.68,0) scale(0.572,1)" font-size="14" style="stroke-width:0.45px">b</text><text transform="translate(64.7,452.3) rotate(-90) translate(29.95,0) scale(0.772,1)" font-size="14" style="stroke-width:0.45px">i</text><text transform="translate(64.7,452.3) rotate(-90) translate(32.40,0) scale(0.772,1)" font-size="14" style="stroke-width:0.45px">l</text><text transform="translate(64.7,452.3) rotate(-90) translate(34.70,0) scale(0.772,1)" font-size="14" style="stroke-width:0.45px">i</text><text transform="translate(64.7,452.3) rotate(-90) translate(38.16,0) scale(0.643,1)" font-size="14" style="stroke-width:0.45px">t</text><text transform="translate(64.7,452.3) rotate(-90) translate(41.18,0) scale(0.562,1)" font-size="14" style="stroke-width:0.45px">y</text>
<path d="M100.3,430.7 H467.3" stroke="#000" stroke-width="1.4" stroke-dasharray="3.5,2.975" stroke-dashoffset="3.5"/>
<path d="M100.1,430.7 H101.1" stroke="#000" stroke-width="1.4"/>
<polyline points="106.3,343.7 117.3,343.7 117.7,343.7 117.7,344.9 118.6,344.9 118.6,346.0 119.0,346.0 121.0,346.0 121.0,346.5 123.1,346.5 124.8,346.5 124.8,347.5 126.5,347.5 128.2,347.5 128.2,348.3 130.0,348.3 130.6,348.3 130.6,349.1 131.7,349.1 131.7,349.8 132.3,349.8 134.6,349.8 134.6,350.6 136.9,350.6 140.4,350.9 141.6,350.9 141.6,351.7 142.7,351.7 144.4,351.7 144.4,352.3 146.1,352.3 146.9,352.3 146.9,353.4 148.4,353.4 148.4,354.4 150.0,354.4 150.0,355.5 150.8,355.5 155.4,355.5 155.8,355.5 155.8,356.4 156.6,356.4 156.6,357.2 157.3,357.2 157.3,358.1 157.7,358.1 159.8,358.1 159.8,359.5 161.9,359.5 164.8,359.5 164.8,360.6 167.7,360.6 171.8,360.6 171.8,361.0 175.8,361.0 176.4,361.0 176.4,361.9 177.5,361.9 177.5,362.7 178.1,362.7 179.2,362.7 179.2,363.8 181.5,363.8 181.5,364.8 182.7,364.8 183.5,364.8 183.5,366.1 185.2,366.1 185.2,367.3 186.1,367.3 187.0,367.3 187.0,368.1 188.7,368.1 188.7,369.0 189.6,369.0 191.9,369.0 191.9,369.6 194.2,369.6 194.6,369.6 194.6,370.5 195.5,370.5 195.5,371.4 196.4,371.4 196.4,372.2 197.3,372.2 197.3,373.1 197.7,373.1 219.2,373.3 219.8,373.3 219.8,374.2 220.9,374.2 220.9,375.2 221.5,375.2 227.3,375.2 228.2,375.2 228.2,376.0 229.9,376.0 229.9,376.9 230.8,376.9 232.2,376.9 232.2,377.8 235.1,377.8 235.1,378.6 236.5,378.6 237.8,378.6 237.8,379.5 240.4,379.5 240.4,380.4 241.7,380.4 257.3,380.4 257.9,380.4 257.9,381.4 259.0,381.4 259.0,382.3 260.1,382.3 260.1,383.3 260.7,383.3 261.5,383.3 261.5,384.2 263.0,384.2 263.0,385.2 264.6,385.2 264.6,386.1 265.4,386.1 270.9,386.1 270.9,387.5 276.5,387.5 277.4,387.5 277.4,388.2 279.1,388.2 279.1,389.0 280.0,389.0 281.8,389.0 281.8,390.4 283.5,390.4 288.1,390.4 288.1,391.5 292.7,391.5 297.3,391.5 298.5,391.5 298.5,392.7 299.6,392.7 303.1,392.7 303.6,392.7 303.6,394.1 304.2,394.1 314.6,394.1 315.3,394.1 315.3,395.4 316.8,395.4 316.8,396.6 317.5,396.6 347.7,396.6 350.0,396.6 350.0,397.9 352.3,397.9 430.4,397.9 430.6,397.9 430.6,398.9 430.9,398.9 430.9,400.0 431.3,400.0 431.3,401.0 431.5,401.0 433.8,401.0 433.9,401.0 433.9,401.9 434.0,401.9 434.0,402.8 434.1,402.8 434.1,403.8 434.2,403.8 434.2,404.7 434.3,404.7 434.3,405.6 434.4,405.6 464.4,405.6 464.4,413.1 467.3,413.1" fill="none" stroke="#213f7e" stroke-width="1.5" stroke-linejoin="round"/>
<g stroke="#213f7e" stroke-width="1.1"><line x1="112.0" y1="342.0" x2="112.0" y2="345.4"/><line x1="117.2" y1="342.0" x2="117.2" y2="345.4"/><line x1="120.7" y1="344.5" x2="120.7" y2="347.9"/><line x1="125.8" y1="345.6" x2="125.8" y2="349.0"/><line x1="131.0" y1="347.3" x2="131.0" y2="350.7"/><line x1="134.5" y1="348.5" x2="134.5" y2="351.9"/><line x1="139.6" y1="349.1" x2="139.6" y2="352.5"/><line x1="144.8" y1="350.4" x2="144.8" y2="353.8"/><line x1="148.3" y1="352.1" x2="148.3" y2="355.5"/><line x1="153.4" y1="353.8" x2="153.4" y2="357.2"/><line x1="158.6" y1="356.7" x2="158.6" y2="360.1"/><line x1="162.1" y1="357.8" x2="162.1" y2="361.2"/><line x1="167.2" y1="358.8" x2="167.2" y2="362.2"/><line x1="172.4" y1="359.1" x2="172.4" y2="362.5"/><line x1="175.9" y1="359.4" x2="175.9" y2="362.8"/><line x1="181.0" y1="362.3" x2="181.0" y2="365.7"/><line x1="186.2" y1="365.6" x2="186.2" y2="369.0"/><line x1="189.7" y1="367.3" x2="189.7" y2="370.7"/><line x1="194.8" y1="368.5" x2="194.8" y2="371.9"/><line x1="200.0" y1="371.4" x2="200.0" y2="374.8"/><line x1="203.0" y1="371.4" x2="203.0" y2="374.8"/><line x1="208.0" y1="371.5" x2="208.0" y2="374.9"/><line x1="211.3" y1="371.5" x2="211.3" y2="374.9"/><line x1="216.2" y1="371.6" x2="216.2" y2="375.0"/><line x1="221.2" y1="373.3" x2="221.2" y2="376.7"/><line x1="224.5" y1="373.5" x2="224.5" y2="376.9"/><line x1="229.4" y1="374.5" x2="229.4" y2="377.9"/><line x1="234.4" y1="376.3" x2="234.4" y2="379.7"/><line x1="237.7" y1="377.3" x2="237.7" y2="380.7"/><line x1="242.6" y1="378.7" x2="242.6" y2="382.1"/><line x1="247.6" y1="378.7" x2="247.6" y2="382.1"/><line x1="250.9" y1="378.7" x2="250.9" y2="382.1"/><line x1="255.8" y1="378.7" x2="255.8" y2="382.1"/><line x1="260.8" y1="381.7" x2="260.8" y2="385.1"/><line x1="264.1" y1="383.6" x2="264.1" y2="387.0"/><line x1="269.0" y1="384.9" x2="269.0" y2="388.3"/><line x1="274.0" y1="385.5" x2="274.0" y2="388.9"/><line x1="277.3" y1="386.1" x2="277.3" y2="389.5"/><line x1="282.2" y1="388.2" x2="282.2" y2="391.6"/><line x1="287.2" y1="389.1" x2="287.2" y2="392.5"/><line x1="290.5" y1="389.5" x2="290.5" y2="392.9"/><line x1="295.4" y1="389.8" x2="295.4" y2="393.2"/><line x1="300.4" y1="391.0" x2="300.4" y2="394.4"/><line x1="304.9" y1="392.4" x2="304.9" y2="395.8"/><line x1="315.5" y1="393.2" x2="315.5" y2="396.6"/><line x1="318.0" y1="394.9" x2="318.0" y2="398.3"/><line x1="321.2" y1="394.9" x2="321.2" y2="398.3"/><line x1="323.7" y1="394.9" x2="323.7" y2="398.3"/><line x1="332.7" y1="394.9" x2="332.7" y2="398.3"/><line x1="335.1" y1="394.9" x2="335.1" y2="398.3"/><line x1="336.8" y1="394.9" x2="336.8" y2="398.3"/><line x1="345.8" y1="394.9" x2="345.8" y2="398.3"/><line x1="348.2" y1="395.0" x2="348.2" y2="398.4"/><line x1="353.9" y1="396.2" x2="353.9" y2="399.6"/><line x1="356.4" y1="396.2" x2="356.4" y2="399.6"/><line x1="361.3" y1="396.2" x2="361.3" y2="399.6"/><line x1="362.9" y1="396.2" x2="362.9" y2="399.6"/><line x1="364.5" y1="396.2" x2="364.5" y2="399.6"/><line x1="367.8" y1="396.2" x2="367.8" y2="399.6"/><line x1="369.4" y1="396.2" x2="369.4" y2="399.6"/><line x1="371.1" y1="396.2" x2="371.1" y2="399.6"/><line x1="372.7" y1="396.2" x2="372.7" y2="399.6"/><line x1="375.2" y1="396.2" x2="375.2" y2="399.6"/><line x1="376.8" y1="396.2" x2="376.8" y2="399.6"/><line x1="378.4" y1="396.2" x2="378.4" y2="399.6"/><line x1="381.7" y1="396.2" x2="381.7" y2="399.6"/><line x1="385.8" y1="396.2" x2="385.8" y2="399.6"/><line x1="387.5" y1="396.2" x2="387.5" y2="399.6"/><line x1="389.1" y1="396.2" x2="389.1" y2="399.6"/><line x1="390.7" y1="396.2" x2="390.7" y2="399.6"/><line x1="396.4" y1="396.2" x2="396.4" y2="399.6"/><line x1="400.5" y1="396.2" x2="400.5" y2="399.6"/><line x1="403.0" y1="396.2" x2="403.0" y2="399.6"/><line x1="404.6" y1="396.2" x2="404.6" y2="399.6"/><line x1="410.3" y1="396.2" x2="410.3" y2="399.6"/><line x1="412.0" y1="396.2" x2="412.0" y2="399.6"/><line x1="413.6" y1="396.2" x2="413.6" y2="399.6"/><line x1="415.2" y1="396.2" x2="415.2" y2="399.6"/><line x1="416.9" y1="396.2" x2="416.9" y2="399.6"/><line x1="418.5" y1="396.2" x2="418.5" y2="399.6"/><line x1="420.1" y1="396.2" x2="420.1" y2="399.6"/><line x1="421.8" y1="396.2" x2="421.8" y2="399.6"/><line x1="423.4" y1="396.2" x2="423.4" y2="399.6"/><line x1="425.0" y1="396.2" x2="425.0" y2="399.6"/><line x1="427.5" y1="396.2" x2="427.5" y2="399.6"/><line x1="429.1" y1="396.2" x2="429.1" y2="399.6"/><line x1="435.7" y1="403.9" x2="435.7" y2="407.3"/><line x1="438.9" y1="403.9" x2="438.9" y2="407.3"/><line x1="441.4" y1="403.9" x2="441.4" y2="407.3"/><line x1="446.3" y1="403.9" x2="446.3" y2="407.3"/><line x1="449.5" y1="403.9" x2="449.5" y2="407.3"/><line x1="454.4" y1="403.9" x2="454.4" y2="407.3"/><line x1="456.1" y1="403.9" x2="456.1" y2="407.3"/><line x1="461.8" y1="403.9" x2="461.8" y2="407.3"/><line x1="465.1" y1="411.4" x2="465.1" y2="414.8"/><line x1="466.7" y1="411.4" x2="466.7" y2="414.8"/></g>
<polyline points="106.3,343.7 117.3,344.0 134.6,344.2 135.8,344.2 135.8,345.6 136.9,345.6 139.2,345.6 139.2,346.2 141.5,346.2 143.2,346.2 143.2,346.9 145.0,346.9 151.9,347.1 153.7,347.1 153.7,347.9 155.4,347.9 158.7,347.9 158.7,348.3 161.9,348.3 165.9,348.3 165.9,349.4 170.0,349.4 172.9,349.4 172.9,350.3 175.8,350.3 179.2,350.3 179.2,351.1 182.7,351.1 186.1,351.1 186.1,352.1 189.6,352.1 198.8,352.3 201.1,352.3 201.1,353.2 203.4,353.2 205.2,353.2 205.2,354.0 206.9,354.0 212.5,354.0 212.5,354.6 218.1,354.6 218.9,354.6 218.9,355.9 220.7,355.9 220.7,357.1 221.5,357.1 229.6,357.3 231.3,357.3 231.3,358.7 233.1,358.7 236.6,358.7 236.6,359.4 240.0,359.4 241.2,359.4 241.2,360.6 243.4,360.6 243.4,361.9 244.6,361.9 250.4,361.9 250.4,362.5 256.1,362.5 257.9,362.5 257.9,363.6 259.6,363.6 261.9,363.6 261.9,364.2 264.2,364.2 274.2,364.4 276.5,364.4 276.5,365.0 278.8,365.0 280.2,365.0 280.2,366.1 281.7,366.1 293.8,366.1 295.6,366.1 295.6,367.0 297.3,367.0 311.1,367.0 312.9,367.0 312.9,368.2 314.6,368.2 317.5,368.2 317.5,368.7 320.4,368.7 320.9,368.7 320.9,369.5 321.5,369.5 335.0,369.6 336.1,369.6 336.1,370.6 337.3,370.6 358.1,370.6 359.8,370.6 359.8,371.4 361.5,371.4 362.1,371.4 362.1,372.1 363.2,372.1 363.2,372.9 363.8,372.9 366.1,372.9 366.1,373.5 368.4,373.5 370.1,373.5 370.1,374.4 371.9,374.4 374.2,374.4 374.2,375.5 376.5,375.5 377.3,375.5 377.3,376.5 378.8,376.5 378.8,377.5 379.6,377.5 413.1,377.5 413.4,377.5 413.4,378.4 413.9,378.4 413.9,379.2 414.2,379.2 417.1,379.5 417.4,379.5 417.4,380.6 418.0,380.6 418.0,381.7 418.3,381.7 453.4,381.7 454.0,381.7 454.0,382.5 454.6,382.5 454.7,382.5 454.7,383.5 454.9,383.5 454.9,384.4 455.1,384.4 455.1,385.4 455.3,385.4 455.3,386.3 455.5,386.3 455.5,387.3 455.7,387.3 455.7,388.2 455.8,388.2 455.8,389.2 456.0,389.2 456.0,390.2 456.2,390.2 456.2,391.1 456.4,391.1 456.4,392.1 456.6,392.1 456.6,393.0 456.8,393.0 456.8,394.0 456.9,394.0 467.3,394.0" fill="none" stroke="#aa0530" stroke-width="1.5" stroke-linejoin="round"/>
<g stroke="#aa0530" stroke-width="1.1"><line x1="110.0" y1="342.1" x2="110.0" y2="345.5"/><line x1="115.6" y1="342.3" x2="115.6" y2="345.7"/><line x1="119.5" y1="342.3" x2="119.5" y2="345.7"/><line x1="125.0" y1="342.4" x2="125.0" y2="345.8"/><line x1="130.6" y1="342.5" x2="130.6" y2="345.9"/><line x1="134.5" y1="342.5" x2="134.5" y2="345.9"/><line x1="140.0" y1="344.3" x2="140.0" y2="347.7"/><line x1="145.6" y1="345.2" x2="145.6" y2="348.6"/><line x1="149.5" y1="345.3" x2="149.5" y2="348.7"/><line x1="155.0" y1="346.1" x2="155.0" y2="349.5"/><line x1="160.6" y1="346.5" x2="160.6" y2="349.9"/><line x1="164.5" y1="347.0" x2="164.5" y2="350.4"/><line x1="170.0" y1="347.7" x2="170.0" y2="351.1"/><line x1="175.6" y1="348.6" x2="175.6" y2="352.0"/><line x1="179.5" y1="349.0" x2="179.5" y2="352.4"/><line x1="185.0" y1="349.7" x2="185.0" y2="353.1"/><line x1="190.6" y1="350.4" x2="190.6" y2="353.8"/><line x1="194.5" y1="350.5" x2="194.5" y2="353.9"/><line x1="200.0" y1="350.8" x2="200.0" y2="354.2"/><line x1="203.0" y1="351.4" x2="203.0" y2="354.8"/><line x1="207.8" y1="352.3" x2="207.8" y2="355.7"/><line x1="210.9" y1="352.5" x2="210.9" y2="355.9"/><line x1="215.6" y1="352.8" x2="215.6" y2="356.2"/><line x1="220.4" y1="354.6" x2="220.4" y2="358.0"/><line x1="223.5" y1="355.4" x2="223.5" y2="358.8"/><line x1="228.2" y1="355.6" x2="228.2" y2="359.0"/><line x1="233.0" y1="357.0" x2="233.0" y2="360.4"/><line x1="236.1" y1="357.3" x2="236.1" y2="360.7"/><line x1="240.8" y1="358.1" x2="240.8" y2="361.5"/><line x1="245.6" y1="360.3" x2="245.6" y2="363.7"/><line x1="248.7" y1="360.4" x2="248.7" y2="363.8"/><line x1="253.4" y1="360.7" x2="253.4" y2="364.1"/><line x1="258.2" y1="361.5" x2="258.2" y2="364.9"/><line x1="261.3" y1="362.1" x2="261.3" y2="365.5"/><line x1="266.0" y1="362.5" x2="266.0" y2="365.9"/><line x1="270.8" y1="362.6" x2="270.8" y2="366.0"/><line x1="273.9" y1="362.7" x2="273.9" y2="366.1"/><line x1="278.6" y1="363.3" x2="278.6" y2="366.7"/><line x1="283.4" y1="364.4" x2="283.4" y2="367.8"/><line x1="286.5" y1="364.4" x2="286.5" y2="367.8"/><line x1="291.2" y1="364.4" x2="291.2" y2="367.8"/><line x1="296.0" y1="365.0" x2="296.0" y2="368.4"/><line x1="299.1" y1="365.3" x2="299.1" y2="368.7"/><line x1="303.3" y1="365.3" x2="303.3" y2="368.7"/><line x1="313.9" y1="366.3" x2="313.9" y2="369.7"/><line x1="316.3" y1="366.6" x2="316.3" y2="370.0"/><line x1="318.8" y1="366.9" x2="318.8" y2="370.3"/><line x1="320.4" y1="367.0" x2="320.4" y2="370.4"/><line x1="330.2" y1="367.9" x2="330.2" y2="371.3"/><line x1="332.7" y1="367.9" x2="332.7" y2="371.3"/><line x1="335.1" y1="367.9" x2="335.1" y2="371.3"/><line x1="336.8" y1="368.7" x2="336.8" y2="372.1"/><line x1="339.2" y1="368.9" x2="339.2" y2="372.3"/><line x1="346.6" y1="368.9" x2="346.6" y2="372.3"/><line x1="352.3" y1="368.9" x2="352.3" y2="372.3"/><line x1="353.9" y1="368.9" x2="353.9" y2="372.3"/><line x1="355.6" y1="368.9" x2="355.6" y2="372.3"/><line x1="357.2" y1="368.9" x2="357.2" y2="372.3"/><line x1="358.8" y1="369.1" x2="358.8" y2="372.5"/><line x1="362.9" y1="370.6" x2="362.9" y2="374.0"/><line x1="366.2" y1="371.5" x2="366.2" y2="374.9"/><line x1="367.8" y1="371.7" x2="367.8" y2="375.1"/><line x1="369.4" y1="372.1" x2="369.4" y2="375.5"/><line x1="371.9" y1="372.7" x2="371.9" y2="376.1"/><line x1="374.3" y1="373.3" x2="374.3" y2="376.7"/><line x1="376.8" y1="374.0" x2="376.8" y2="377.4"/><line x1="380.1" y1="375.8" x2="380.1" y2="379.2"/><line x1="383.3" y1="375.8" x2="383.3" y2="379.2"/><line x1="385.8" y1="375.8" x2="385.8" y2="379.2"/><line x1="388.3" y1="375.8" x2="388.3" y2="379.2"/><line x1="390.7" y1="375.8" x2="390.7" y2="379.2"/><line x1="393.2" y1="375.8" x2="393.2" y2="379.2"/><line x1="395.6" y1="375.8" x2="395.6" y2="379.2"/><line x1="398.1" y1="375.8" x2="398.1" y2="379.2"/><line x1="400.5" y1="375.8" x2="400.5" y2="379.2"/><line x1="403.0" y1="375.8" x2="403.0" y2="379.2"/><line x1="405.4" y1="375.8" x2="405.4" y2="379.2"/><line x1="407.9" y1="375.8" x2="407.9" y2="379.2"/><line x1="410.3" y1="375.8" x2="410.3" y2="379.2"/><line x1="412.8" y1="375.8" x2="412.8" y2="379.2"/><line x1="420.1" y1="380.0" x2="420.1" y2="383.4"/><line x1="422.6" y1="380.0" x2="422.6" y2="383.4"/><line x1="425.0" y1="380.0" x2="425.0" y2="383.4"/><line x1="427.5" y1="380.0" x2="427.5" y2="383.4"/><line x1="429.1" y1="380.0" x2="429.1" y2="383.4"/><line x1="431.6" y1="380.0" x2="431.6" y2="383.4"/><line x1="434.0" y1="380.0" x2="434.0" y2="383.4"/><line x1="436.5" y1="380.0" x2="436.5" y2="383.4"/><line x1="438.9" y1="380.0" x2="438.9" y2="383.4"/><line x1="440.6" y1="380.0" x2="440.6" y2="383.4"/><line x1="442.2" y1="380.0" x2="442.2" y2="383.4"/><line x1="444.6" y1="380.0" x2="444.6" y2="383.4"/><line x1="447.1" y1="380.0" x2="447.1" y2="383.4"/><line x1="449.5" y1="380.0" x2="449.5" y2="383.4"/><line x1="452.0" y1="380.0" x2="452.0" y2="383.4"/><line x1="457.7" y1="392.3" x2="457.7" y2="395.7"/><line x1="460.2" y1="392.3" x2="460.2" y2="395.7"/><line x1="462.6" y1="392.3" x2="462.6" y2="395.7"/><line x1="465.1" y1="392.3" x2="465.1" y2="395.7"/><line x1="466.7" y1="392.3" x2="466.7" y2="395.7"/></g>
<g font-size="11.2" font-weight="bold" class="b">
<text x="108" y="481.5">HR: 0.54</text>
<text x="108" y="494.7">95% CI: 0.36, 0.83</text>
<text x="108" y="507.9" font-style="italic">P</text>
<path d="M118.4,504.4 H124.8 M118.4,506.6 H124.8" stroke="#231f20" stroke-width="0.95"/>
<text x="128.0" y="507.9">0.0050</text>
</g>
<g font-size="10.8">
<text x="269.7" y="491.6">Lenalidomide Maintenance (n=213)</text>
<text x="269.7" y="504.9">No Maintenance (n=165)</text>
</g>
<g stroke-width="1.5"><path d="M258.4,488.5 H265.3 M261.85,485.1 V491.8" stroke="#aa0530"/>
<path d="M258.4,501.7 H265.3 M261.85,498.4 V504.9" stroke="#213f7e"/></g>
<text x="477.1" y="478.2" font-size="11.3" font-weight="bold" class="b" text-anchor="middle">OS (mo)</text>
<g font-size="10.8" text-anchor="end"><text x="508.7" y="491.6">Not Reached</text><text x="508.7" y="504.9">Not Reached</text></g>
<text x="89.9" y="577.3" font-size="11.2" font-weight="bold" class="b" text-anchor="end">At risk (n)</text>
<g font-size="10.75" text-anchor="end"><text x="88.9" y="591.3">Lenalidomide</text><text x="88.8" y="604.8">No Maintenance</text></g>
<g font-size="10.5" text-anchor="middle" letter-spacing="0.6">
<text x="107.8" y="591.3">213</text>
<text x="143.7" y="591.3">210</text>
<text x="179.7" y="591.3">204</text>
<text x="215.6" y="591.3">197</text>
<text x="323.4" y="591.3">159</text>
<text x="431.2" y="591.3">43</text>
<text x="107.8" y="604.8">165</text>
<text x="143.7" y="604.8">150</text>
<text x="179.7" y="604.8">136</text>
<text x="215.6" y="604.8">124</text>
<text x="323.4" y="604.8">89</text>
<text x="431.2" y="604.8">31</text>
</g>
</svg>
</body></html>
